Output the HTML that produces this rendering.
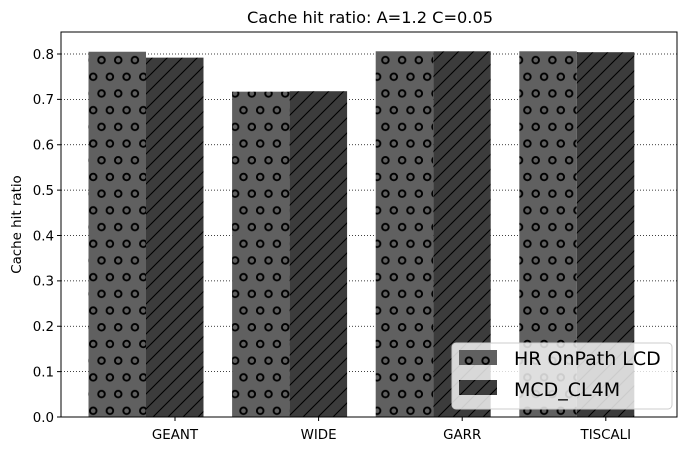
<!DOCTYPE html>
<html><head><meta charset="utf-8"><style>
html,body{margin:0;padding:0;background:#fff;}
svg text{font-family:"DejaVu Sans","Liberation Sans",sans-serif;}
</style></head><body>
<svg id="chart" width="691" height="451" viewBox="0 0 691 451" xmlns="http://www.w3.org/2000/svg">
<defs>
<pattern id="dots" patternUnits="userSpaceOnUse" width="16.7" height="33.4" x="89" y="2">
<rect width="16.7" height="33.4" fill="#606060"/>
<circle cx="4.2" cy="8" r="3.3" fill="none" stroke="#000" stroke-width="1.9"/>
<circle cx="12.5" cy="24.7" r="3.3" fill="none" stroke="#000" stroke-width="1.9"/>
</pattern>
<pattern id="hatch" patternUnits="userSpaceOnUse" width="15" height="15">
<rect width="15" height="15" fill="#3c3c3c"/>
<path d="M-2,17 L17,-2 M-5,5 L5,-5 M10,20 L20,10" stroke="#000" stroke-width="1.1"/>
</pattern>
</defs>
<text x="370" y="23" text-anchor="middle" font-size="16.2">Cache hit ratio: A=1.2 C=0.05</text>
<g id="grid"></g>
<g id="bars"></g>
<g id="axes"></g>
<text transform="translate(21,224.5) rotate(-90)" text-anchor="middle" font-size="13.4">Cache hit ratio</text>
<g>
<rect x="452" y="343" width="220" height="66" rx="4" fill="#fff" fill-opacity="0.8" stroke="#ccc"/>
<rect x="459" y="350" width="38" height="15" fill="url(#dots)"/>
<text x="514" y="365" font-size="19">HR OnPath LCD</text>
<rect x="459" y="380" width="38" height="15" fill="url(#hatch)"/>
<text x="514" y="396" font-size="19">MCD_CL4M</text>
</g>
</svg>
<script>
const categories = ["GEANT","WIDE","GARR","TISCALI"];
const hrOnPath = [0.805,0.717,0.806,0.806];
const mcdCl4m = [0.792,0.718,0.806,0.804];
const yTicks = [0,0.1,0.2,0.3,0.4,0.5,0.6,0.7,0.8];

const NS="http://www.w3.org/2000/svg";
const L=61,R=677,T=32,B=417;
const yMax=0.8485;
const y=v=>B-(v/yMax)*(B-T);
const groupX=i=>146+i*143.6;
const bw=57.5;
function mk(tag,attrs,parent){const e=document.createElementNS(NS,tag);for(const k in attrs)e.setAttribute(k,attrs[k]);parent.appendChild(e);return e;}
const grid=document.getElementById('grid'),bars=document.getElementById('bars'),axes=document.getElementById('axes');
yTicks.forEach(t=>{
  if(t>0){const g=mk('line',{x1:L,x2:R,y1:y(t),y2:y(t),stroke:'#000','stroke-width':0.8,'stroke-dasharray':'1,2'},grid);
  
  }
  const tk=mk('line',{x1:L-4,x2:L,y1:y(t),y2:y(t),stroke:'#000'},axes);
  
  
  const tx=mk('text',{x:L-7,y:y(t)+4.8,'text-anchor':'end','font-size':13.4},axes);
  tx.textContent=t.toFixed(1);
  
  
});
categories.forEach((c,i)=>{
  const gx=groupX(i);
  const b1=mk('rect',{x:gx-bw,y:y(hrOnPath[i]),width:bw,height:B-y(hrOnPath[i]),fill:'url(#dots)'},bars);
  
  
  const b2=mk('rect',{x:gx,y:y(mcdCl4m[i]),width:bw,height:B-y(mcdCl4m[i]),fill:'url(#hatch)'},bars);
  
  
  const tkx=gx+29;
  const tk=mk('line',{x1:tkx,x2:tkx,y1:B,y2:B+4,stroke:'#000'},axes);
  
  
  const tx=mk('text',{x:tkx,y:B+22,'text-anchor':'middle','font-size':13.4},axes);
  tx.textContent=c;
  
  
});
const fr=mk('rect',{x:L,y:T,width:R-L,height:B-T,fill:'none',stroke:'#000','stroke-width':1},axes);


</script>
</body></html>
